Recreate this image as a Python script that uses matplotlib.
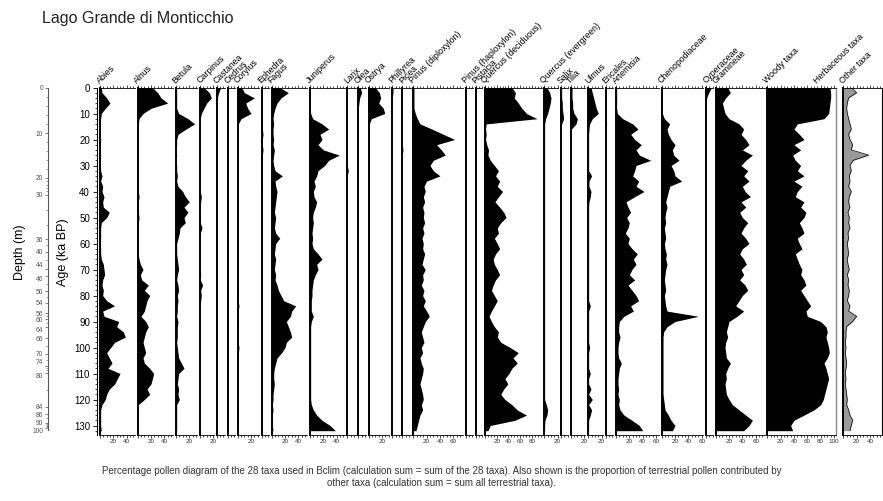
import numpy as np
import matplotlib
matplotlib.use("Agg")
import matplotlib.pyplot as plt
from matplotlib.ticker import MultipleLocator, FuncFormatter, FixedLocator

plt.rcParams['font.family'] = ['Liberation Sans', 'DejaVu Sans']

# --- donnees (pourcentages, pas de 2 ka) ---
AGES = [0, 2, 4, 6, 8, 10, 12, 14, 16, 18, 20, 22, 24, 26, 28, 30, 32,
        34, 36, 38, 40, 42, 44, 46, 48, 50, 52, 54, 56, 58, 60, 62, 64, 66,
        68, 70, 72, 74, 76, 78, 80, 82, 84, 86, 88, 90, 92, 94, 96, 98, 100,
        102, 104, 106, 108, 110, 112, 114, 116, 118, 120, 122, 124, 126, 128, 130, 132]

abies = [2, 3, 10, 15, 8, 2, 1, 0.5, 0.5, 0.5, 1, 0.5, 0.5, 1, 0.5, 0.5, 1,
         3, 1, 4, 3, 6, 4, 5, 14, 10, 2, 1, 1, 1, 0.5, 1, 1, 2,
         5, 6, 7, 4, 3, 5, 4, 10, 22, 4, 6, 28, 25, 35, 38, 22, 16,
         10, 14, 18, 12, 30, 26, 22, 14, 10, 8, 3, 1, 1, 1, 1, 2]
alnus = [22, 30, 35, 45, 20, 8, 2, 1, 1, 0.5, 0.5, 1, 0.5, 0.5, 1, 0.5, 1,
         0.5, 1, 0.5, 1, 2, 1, 1, 1, 2, 1, 1, 0.5, 1, 1, 1, 1, 2,
         4, 8, 4, 6, 16, 10, 18, 14, 12, 10, 5, 12, 16, 12, 10, 8, 10,
         12, 8, 10, 18, 24, 22, 20, 14, 18, 10, 1, 0.5, 0.5, 0.5, 0.5, 1]
betula = [1, 1, 1, 1, 1, 4, 18, 28, 15, 3, 1, 1, 0.5, 1, 0.5, 1, 1,
          2, 1, 3, 10, 14, 20, 12, 18, 12, 14, 6, 5, 3, 1, 1, 1, 2,
          3, 4, 2, 1, 3, 4, 2, 3, 2, 2, 1, 3, 2, 2, 2, 1, 2,
          3, 4, 8, 12, 4, 3, 2, 4, 3, 5, 1, 1, 1, 1, 1, 1]
carpinus = [6, 14, 17, 10, 6, 2, 0.5, 0.5, 0.5, 0.5, 0.5, 0.5, 0.5, 0.5, 0.5, 0.5, 0.5,
            0.5, 0.5, 0.5, 0.5, 2, 1, 0.5, 0.5, 0.5, 0.5, 3, 0.5, 0.5, 0.5, 0.5, 0.5, 0.5,
            0.5, 0.5, 1, 0.5, 4, 1, 2, 1, 0.5, 0.5, 0.5, 0.5, 0.5, 0.5, 0.5, 0.5, 0.5,
            0.5, 0.5, 0.5, 0.5, 0.5, 0.5, 0.5, 0.5, 0.5, 0.5, 0.5, 0.5, 0.5, 0.5, 0.5, 0.5]
castanea = [6, 3, 1, 0, 0, 0, 0, 0, 0, 0, 0, 0, 0, 0, 0, 0, 0,
            0, 0, 0, 0, 0, 0, 0, 0, 0, 0, 0, 0, 0, 0, 0, 0, 0,
            0, 0, 0, 0, 0, 0, 0, 0, 0, 0, 0, 0, 0, 0, 0, 0, 0,
            0, 0, 0, 0, 0, 0, 0, 0, 0, 0, 0, 0, 0, 0, 0, 0]
cedrus = [0, 0, 0, 0, 0, 0, 0, 0, 0, 0, 0, 0, 0, 0, 0, 0, 0,
          0, 0, 0, 0, 0, 0, 0, 0, 0, 0, 0, 0, 0, 0, 0, 0, 0,
          0, 0, 0, 0, 0, 0, 0, 0, 0, 0, 0, 0, 0, 0, 0, 0, 0,
          0, 0, 0, 0, 0, 0, 0, 0, 0, 0, 0, 0, 0, 0, 0, 0]
corylus = [6, 10, 25, 12, 15, 20, 5, 1, 0.5, 0.5, 0.5, 0.5, 0.5, 0.5, 0.5, 0.5, 0.5,
           0.5, 0.5, 0.5, 0.5, 0.5, 0.5, 0.5, 0.5, 0.5, 0.5, 0.5, 0.5, 0.5, 0.5, 0.5, 0.5, 0.5,
           0.5, 0.5, 0.5, 0.5, 0.5, 0.5, 1, 0.5, 2, 0.5, 0.5, 1, 0.5, 0.5, 0.5, 0.5, 2,
           1, 0.5, 0.5, 0.5, 0.5, 0.5, 0.5, 0.5, 0.5, 0.5, 0.5, 0.5, 1, 0.5, 0.5, 0.5]
ephedra = [0, 0, 0, 0, 0, 0, 0, 1, 1, 2, 1, 1, 2, 1, 1, 1, 1,
           1, 1, 1, 0.5, 0, 0, 0, 0, 0, 0, 0, 0, 0, 0, 0, 0, 0,
           0, 0, 0, 0, 0, 0, 0, 0, 0, 0, 0, 0, 0, 0, 0, 0, 0,
           0, 0, 0, 0, 0, 0, 0, 0, 0, 0, 0, 0, 0, 0, 0, 0]
fagus = [12, 25, 14, 8, 5, 3, 2, 3, 2, 2, 3, 2, 4, 3, 2, 3, 5,
         16, 5, 6, 8, 7, 6, 5, 4, 6, 5, 4, 6, 12, 6, 5, 4, 6,
         5, 4, 6, 5, 8, 10, 14, 18, 36, 30, 28, 22, 25, 28, 30, 22, 20,
         15, 8, 6, 4, 3, 3, 4, 3, 2, 2, 1, 2, 1, 1, 1, 2]
juniperus = [0.5, 0.5, 0.5, 0.5, 0.5, 1, 4, 18, 28, 15, 18, 12, 20, 44, 28, 22, 12,
             10, 6, 8, 5, 6, 10, 8, 5, 4, 5, 4, 3, 4, 3, 5, 12, 18,
             10, 12, 8, 5, 4, 3, 3, 2, 2, 2, 5, 2, 1, 1, 1, 1, 1,
             1, 1, 1, 1, 1, 1, 1, 1, 1, 1, 2, 5, 10, 18, 30, 38]
larix = [0, 0, 0, 0, 0, 0, 0, 0, 0, 0, 0, 0, 0, 0, 0, 0, 1.5,
         0, 0, 0, 0, 0, 0, 0, 0, 0, 0, 0, 0, 0, 0, 0, 0, 0,
         0, 0, 0, 0, 0, 0, 0, 0, 0, 0, 0, 0, 0, 0, 0, 0, 0,
         0, 0, 0, 0, 0, 0, 0, 0, 0, 0, 0, 0, 0, 0, 0, 0]
olea = [3, 5, 2, 1, 0, 0, 0, 0, 0, 0, 0, 0, 0, 0, 0, 0, 0,
        0, 0, 0, 0, 0, 0, 0, 0, 0, 0, 0, 0, 0, 0, 0, 0, 0,
        0, 0, 0, 0, 0, 0, 0, 0, 0, 0, 0, 0, 0, 0, 0, 0, 0,
        0, 0, 0, 0, 0, 0, 0, 0, 0, 0, 0, 0, 0, 0, 0, 0]
ostrya = [10, 16, 18, 15, 22, 24, 4, 1, 0.5, 0.5, 0.5, 0.5, 0.5, 0.5, 0.5, 0.5, 0.5,
          0.5, 0.5, 0.5, 0.5, 0.5, 0.5, 0.5, 0.5, 0.5, 0.5, 0.5, 0.5, 0.5, 0.5, 0.5, 0.5, 0.5,
          0.5, 0.5, 0.5, 0.5, 0.5, 0.5, 0.5, 0.5, 0.5, 0.5, 0.5, 0.5, 0.5, 0.5, 0.5, 0.5, 0.5,
          0.5, 0.5, 0.5, 0.5, 0.5, 0.5, 0.5, 0.5, 0.5, 0.5, 0.5, 0.5, 0.5, 0.5, 0.5, 0.5]
phillyrea = [1, 1, 0, 0, 0, 0, 0, 0, 0, 0, 0, 0, 0, 0, 0, 0, 0,
             0, 0, 0, 0, 0, 0, 0, 0, 0, 0, 0, 0, 0, 0, 0, 0, 0,
             0, 0, 0, 0, 0, 0, 0, 0, 0, 0, 0, 0, 0, 0, 0, 0, 0,
             0, 0, 0, 0, 0, 0, 0, 0, 0, 0, 0, 0, 0, 0, 0, 0]
picea = [0, 0, 0, 0, 0, 0, 0, 0, 0, 0, 0, 0, 1, 0, 0, 0, 0,
         0, 0, 0, 0, 0, 0, 0, 0, 0, 0, 0, 0, 0, 0, 0, 0, 0,
         0, 0, 0, 0, 0, 0, 0, 0, 0, 0, 0, 0, 0, 0, 0, 0, 0,
         0, 0, 0, 0, 0, 0, 0, 0, 0, 0, 0, 0, 0, 0, 0, 0]
pinus_dipl = [1, 1, 1, 1, 1, 3, 6, 10, 28, 45, 62, 35, 42, 48, 30, 25, 30,
              40, 20, 16, 18, 15, 17, 14, 16, 15, 17, 14, 16, 13, 15, 14, 17, 15,
              13, 18, 14, 15, 12, 16, 14, 18, 15, 20, 24, 18, 15, 12, 14, 16, 12,
              14, 10, 12, 15, 14, 12, 10, 12, 14, 15, 12, 14, 10, 8, 6, 4]
pinus_hapl = [0, 0, 0, 0, 0, 0, 0, 0, 0, 0, 0, 0, 0, 0, 0, 0, 0,
              0, 0, 0, 0, 0, 0, 0, 0, 0, 0, 0, 0, 0, 0, 0, 0, 0,
              0, 0, 0, 0, 0, 0, 0, 0, 0, 0, 0, 0, 0, 0, 0, 0, 0,
              0, 0, 0, 0, 0, 0, 0, 0, 0, 0, 0, 0, 0, 0, 0, 0]
pistacia = [0, 1, 0, 0, 0, 0, 0, 0, 0, 0, 0, 0, 0, 0, 0, 0, 0,
            0, 0, 0, 0, 0, 0, 0, 0, 0, 0, 0, 0, 0, 0, 0, 0, 0,
            0, 0, 0, 0, 0, 0, 0, 0, 0, 0, 0, 0, 0, 0, 0, 0, 0,
            0, 0, 0, 0, 0, 0, 0, 0, 0, 0, 0, 0, 0, 0, 0, 0]
quercus_dec = [46, 52, 50, 57, 63, 71, 89, 2, 1, 2, 1, 3, 6, 5, 9, 16, 23,
               18, 25, 21, 30, 23, 17, 25, 32, 36, 27, 21, 23, 16, 21, 25, 18, 14,
               16, 21, 25, 18, 14, 11, 16, 21, 16, 11, 7, 11, 16, 23, 21, 27, 43,
               57, 48, 55, 46, 41, 34, 39, 32, 27, 34, 46, 55, 71, 51, 9, 5]
quercus_ev = [4, 8, 10, 9, 7, 5, 2, 0.5, 0.5, 0.5, 0.5, 0.5, 0.5, 0.5, 0.5, 0.5, 0.5,
              0.5, 0.5, 0.5, 0.5, 0.5, 0.5, 0.5, 0.5, 0.5, 0.5, 0.5, 0.5, 0.5, 0.5, 0.5, 0.5, 0.5,
              0.5, 0.5, 0.5, 0.5, 0.5, 0.5, 0.5, 0.5, 0.5, 0.5, 0.5, 0.5, 0.5, 0.5, 0.5, 0.5, 0.5,
              0.5, 0.5, 0.5, 0.5, 0.5, 0.5, 0.5, 0.5, 0.5, 0.5, 3, 5, 4, 1, 0.5, 0.5]
salix = [1, 1, 1, 2, 2, 3, 4, 1, 0, 0, 0, 0, 0, 0, 0, 0, 0,
         0, 0, 0, 0, 0, 0, 0, 0, 0, 0, 0, 0, 0, 0, 0, 0, 0,
         0, 0, 0, 0, 0, 0, 0, 0, 0, 0, 0, 0, 0, 0, 0, 0, 0,
         0, 0, 0, 0, 0, 0, 0, 0, 0, 0, 0, 0, 0, 0, 0, 0]
tilia = [2, 2, 2, 3, 3, 5, 10, 8, 1, 0, 0, 0, 0, 0, 0, 0, 0,
         0, 0, 0, 0, 0, 0, 0, 0, 0, 0, 0, 0, 0, 0, 0, 0, 0,
         0, 0, 0, 0, 0, 0, 0, 0, 0, 0, 0, 0, 0, 0, 0, 0, 0,
         0, 0, 0, 0, 0, 0, 0, 0, 0, 0, 0, 0, 0, 0, 0, 0]
ulmus = [4, 6, 8, 10, 12, 15, 6, 2, 1, 0.5, 0.5, 0.5, 0.5, 0.5, 0.5, 0.5, 0.5,
         5, 1, 1, 4, 3, 1, 0.5, 0.5, 0.5, 0.5, 0.5, 0.5, 0.5, 0.5, 0.5, 0.5, 0.5,
         0.5, 0.5, 0.5, 0.5, 0.5, 0.5, 0.5, 0.5, 3, 0.5, 0.5, 0.5, 0.5, 0.5, 0.5, 0.5, 2,
         0.5, 0.5, 0.5, 0.5, 3, 0.5, 0.5, 4, 0.5, 6, 0.5, 5, 3, 0.5, 0.5, 0.5]
ericales = [0, 0, 0, 0, 0, 0, 0, 1.5, 0, 0, 0, 0, 0, 0, 0, 0, 0,
            0, 0, 0, 0, 0, 0, 0, 0, 0, 0, 0, 0, 0, 0, 0, 0, 0,
            0, 0, 0, 0, 0, 0, 0, 0, 0, 0, 0, 0, 0, 0, 0, 0, 0,
            0, 0, 0, 0, 0, 0, 0, 0, 0, 0, 0, 0, 0, 0, 0, 0]
artemisia = [1, 1, 1, 1, 1, 2, 10, 25, 33, 22, 28, 38, 30, 35, 52, 30, 28,
             25, 34, 30, 42, 28, 15, 18, 22, 16, 20, 18, 14, 20, 18, 24, 32, 26,
             30, 24, 20, 28, 18, 24, 30, 34, 22, 26, 12, 5, 4, 4, 6, 4, 3,
             3, 4, 8, 5, 4, 3, 3, 4, 3, 5, 4, 6, 12, 24, 35, 40]
chenopod = [1, 1, 1, 1, 1, 1, 4, 12, 8, 10, 14, 20, 16, 18, 26, 14, 18,
            20, 30, 12, 10, 8, 6, 8, 6, 5, 6, 4, 5, 6, 4, 5, 7, 6,
            8, 6, 5, 4, 5, 6, 4, 5, 6, 8, 55, 20, 8, 3, 2, 2, 2,
            2, 2, 2, 2, 2, 2, 2, 2, 2, 3, 4, 5, 10, 14, 20, 16]
cyperaceae = [8, 4, 1, 0.5, 0.5, 0.5, 0.5, 0.5, 0.5, 0.5, 0.5, 0.5, 0.5, 0.5, 0.5, 0.5, 0.5,
              0.5, 0.5, 0.5, 0.5, 0.5, 0.5, 0.5, 0.5, 0.5, 0.5, 0.5, 0.5, 0.5, 0.5, 0.5, 0.5, 0.5,
              0.5, 0.5, 0.5, 0.5, 0.5, 0.5, 0.5, 0.5, 0.5, 0.5, 0.5, 0.5, 0.5, 0.5, 0.5, 0.5, 0.5,
              0.5, 0.5, 0.5, 0.5, 0.5, 0.5, 0.5, 0.5, 0.5, 0.5, 0.5, 0.5, 0.5, 0.5, 0.5, 0.5]
gramineae = [18, 22, 15, 10, 12, 14, 20, 35, 42, 38, 45, 50, 40, 55, 45, 38, 48,
             42, 50, 40, 44, 52, 38, 45, 36, 40, 48, 42, 38, 45, 50, 40, 36, 42,
             46, 38, 42, 36, 44, 48, 40, 35, 30, 42, 32, 20, 18, 16, 18, 15, 14,
             15, 16, 22, 18, 15, 16, 14, 15, 16, 20, 25, 35, 45, 55, 50, 42]
woody = [94, 95, 95, 94, 93, 92, 85, 45, 40, 48, 55, 40, 50, 38, 42, 50, 45,
         55, 40, 52, 45, 42, 55, 50, 58, 55, 48, 52, 55, 45, 48, 52, 42, 45,
         48, 52, 50, 55, 58, 50, 55, 60, 65, 58, 60, 80, 88, 90, 88, 90, 92,
         93, 90, 85, 88, 90, 92, 90, 88, 86, 84, 80, 70, 55, 40, 35, 38]
other = [12, 20, 8, 6, 5, 6, 8, 10, 12, 8, 10, 14, 12, 38, 15, 10, 12,
         9, 10, 8, 12, 9, 8, 10, 7, 9, 8, 10, 7, 8, 6, 7, 8, 6,
         7, 9, 6, 8, 7, 9, 8, 6, 10, 8, 20, 14, 5, 4, 4, 3, 4,
         3, 4, 5, 4, 3, 4, 3, 4, 5, 6, 5, 8, 10, 14, 12, 10]

TAXA = ["Abies", "Alnus", "Betula", "Carpinus", "Castanea", "Cedrus", "Corylus",
        "Ephedra", "Fagus", "Juniperus", "Larix", "Olea", "Ostrya", "Phillyrea",
        "Picea", "Pinus (diploxylon)", "Pinus (haploxylon)", "Pistacia",
        "Quercus (deciduous)", "Quercus (evergreen)", "Salix", "Tilia", "Ulmus",
        "Ericales", "Artemisia", "Chenopodiaceae", "Cyperaceae", "Gramineae",
        "Woody taxa", "Other taxa"]
SERIES = [abies, alnus, betula, carpinus, castanea, cedrus, corylus, ephedra,
          fagus, juniperus, larix, olea, ostrya, phillyrea, picea, pinus_dipl,
          pinus_hapl, pistacia, quercus_dec, quercus_ev, salix, tilia, ulmus,
          ericales, artemisia, chenopod, cyperaceae, gramineae, woody, other]

# echelle de profondeur (m) et age correspondant (ka)
DEPTH_LABELS = [0, 10, 20, 30, 36, 40, 44, 46, 50, 54, 56, 60, 64, 66, 70, 74, 80, 84, 86, 90, 100]
DEPTH_AGES = [0, 17.6, 34.7, 41.3, 58.4, 63.1, 69.9, 72.5, 78.3, 82.8, 86.9, 89.2,
              92.0, 96.5, 102.5, 107.1, 109.7, 122.8, 125.7, 128.9, 130.8]

# --- mise en page (pixels) ---
W, H = 883, 501
TOP, BOTTOM = 87.5, 434.6
AGE_MAX = 133.5
PANEL_LEFT = [100, 137.7, 176, 200, 216.7, 227.7, 237.7, 261.7, 271.7, 310,
              347.3, 358.3, 368.7, 392.3, 402.3, 413.3, 465.7, 475.7, 485, 544.3,
              561, 570.7, 588.3, 605.7, 616, 661.7, 706, 715.7, 767.3, 843.3]
PANEL_XMAX = [52.5, 53, 32, 21, 12.4, 11, 32, 11, 53, 52, 12.4, 11.5, 31, 11,
              12.4, 74.5, 11, 10, 96.8, 21, 10.5, 22, 22, 11.4, 64.5, 62.4, 10.5,
              73.5, 102.5, 58]
PX_PER_PCT = 0.667


def fx(px):
    return px / W


def fy(py):
    return 1 - py / H


fig = plt.figure(figsize=(W / 100, H / 100), dpi=100)
fig.patch.set_facecolor('white')

hfrac = (BOTTOM - TOP) / H
for name, left, xmax, vals in zip(TAXA, PANEL_LEFT, PANEL_XMAX, SERIES):
    scale = 0.585 if name == "Quercus (deciduous)" else PX_PER_PCT
    width = xmax * scale
    ax = fig.add_axes([fx(left), fy(BOTTOM), width / W, hfrac])
    ax.set_xlim(0, xmax)
    ax.set_ylim(AGE_MAX, 0)
    if name == "Other taxa":
        ax.fill_betweenx(AGES, 0, vals, color='#9a9a9a', lw=0)
        ax.plot(vals, AGES, color='black', lw=0.5)
    else:
        ax.fill_betweenx(AGES, 0, vals, color='black', lw=0)
    ax.set_yticks([])
    ax.spines['left'].set_linewidth(1.4)
    for s in ('top', 'bottom'):
        ax.spines[s].set_linewidth(0.6)
    if name == "Woody taxa":
        ax.spines['right'].set_color('#888888')
        ax.spines['right'].set_linewidth(1.0)
    elif name == "Other taxa":
        ax.spines['right'].set_linewidth(0.8)
    else:
        ax.spines['right'].set_visible(False)
    ax.xaxis.set_major_locator(MultipleLocator(20))
    ax.xaxis.set_minor_locator(MultipleLocator(5))
    ax.xaxis.set_major_formatter(FuncFormatter(
        lambda v, p: '' if v <= 0 else f'{v:.0f}'))
    ax.tick_params(axis='x', which='both', top=True, bottom=True, direction='out',
                   width=0.5, labelsize=4.5, pad=1, labelcolor='#333333')
    ax.tick_params(axis='x', which='major', length=2)
    ax.tick_params(axis='x', which='minor', length=1.2)
    fig.text(fx(left + 1), fy(85), name, rotation=45, rotation_mode='anchor',
             ha='left', va='bottom', fontsize=6.3)

fig.text(fx(818), fy(85), "Herbaceous taxa", rotation=45, rotation_mode='anchor',
         ha='left', va='bottom', fontsize=6.3)

# axe des ages
axA = fig.add_axes([fx(97), fy(BOTTOM), 0.0005, hfrac])
axA.set_ylim(AGE_MAX, 0)
axA.set_xticks([])
for s in ('top', 'bottom', 'right'):
    axA.spines[s].set_visible(False)
axA.spines['left'].set_linewidth(0.8)
axA.yaxis.set_major_locator(MultipleLocator(10))
axA.yaxis.set_minor_locator(MultipleLocator(2))
axA.tick_params(axis='y', which='major', length=3, width=0.6, labelsize=7, pad=2)
axA.tick_params(axis='y', which='minor', length=1.5, width=0.5)

# axe des profondeurs
axD = fig.add_axes([fx(48), fy(BOTTOM), 0.0005, hfrac])
axD.set_ylim(AGE_MAX, 0)
axD.set_xticks([])
for s in ('top', 'bottom', 'right'):
    axD.spines[s].set_visible(False)
axD.spines['left'].set_bounds(0, DEPTH_AGES[-1] + 0.8)
axD.spines['left'].set_linewidth(0.8)
axD.spines['left'].set_color('#555555')
axD.yaxis.set_major_locator(FixedLocator(DEPTH_AGES))
axD.set_yticklabels([str(d) for d in DEPTH_LABELS])
axD.yaxis.set_minor_locator(FixedLocator(np.interp(np.arange(0, 101, 2), DEPTH_LABELS, DEPTH_AGES)))
axD.tick_params(axis='y', which='major', length=2.5, width=0.5, labelsize=4.8,
                pad=1, colors='#555555')
axD.tick_params(axis='y', which='minor', length=1.3, width=0.4, colors='#555555')
# etiquettes serrees : on les ecarte un peu
for lab in axD.get_yticklabels():
    if lab.get_text() in ('44', '74'):
        lab.set_verticalalignment('bottom')
    elif lab.get_text() in ('46', '64', '80', '100'):
        lab.set_verticalalignment('top')

fig.text(fx(20), fy(252), "Depth (m)", rotation=90, ha='center', va='center', fontsize=9)
fig.text(fx(63), fy(252), "Age (ka BP)", rotation=90, ha='center', va='center', fontsize=9)
fig.text(fx(42), fy(18), "Lago Grande di Monticchio", ha='left', va='center', fontsize=11.5,
         color='#222222')
fig.text(0.5, fy(477),
         "Percentage pollen diagram of the 28 taxa used in Bclim (calculation sum = sum of the 28 taxa). "
         "Also shown is the proportion of terrestrial pollen contributed by\n"
         "other taxa (calculation sum = sum all terrestrial taxa).",
         ha='center', va='center', fontsize=7, color='#333333', linespacing=1.3)

fig.savefig('out.png', dpi=100)
